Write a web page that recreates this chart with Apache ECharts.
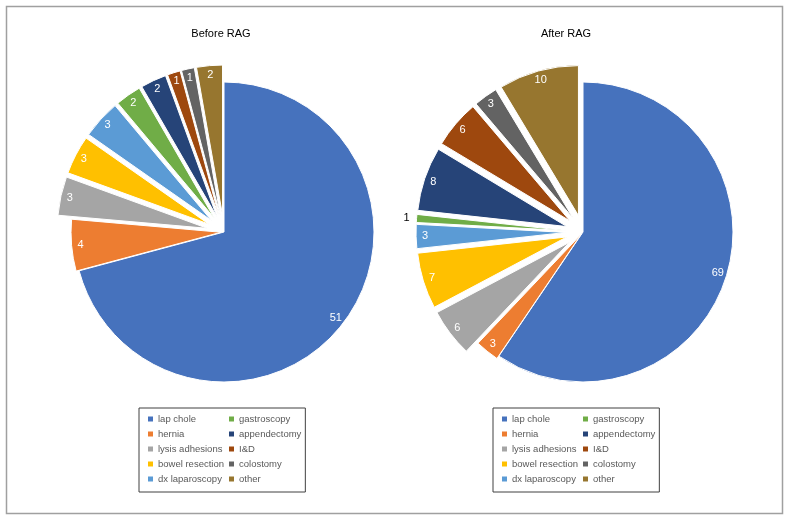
<!DOCTYPE html>
<html>
<head>
<meta charset="utf-8">
<script src="https://cdn.jsdelivr.net/npm/echarts@6/dist/echarts.min.js"></script>
<style>
  html, body { margin: 0; padding: 0; background: #fff; }
  #chart { width: 790px; height: 522px; }
</style>
</head>
<body>
<div id="chart"></div>
<script>
// ---- data ----
const categories = ['lap chole', 'hernia', 'lysis adhesions', 'bowel resection', 'dx laparoscopy',
                    'gastroscopy', 'appendectomy', 'I&D', 'colostomy', 'other'];
const beforeValues = [51, 4, 3, 3, 3, 2, 2, 1, 1, 2];
const afterValues  = [69, 3, 6, 7, 3, 1, 8, 6, 3, 10];
const titles = ['Before RAG', 'After RAG'];
const colors = ['#4672BD', '#ED7D31', '#A5A5A5', '#FFC000', '#5B9BD5',
                '#70AD47', '#264478', '#9E480E', '#636363', '#97762F'];
// labels drawn outside the slice (black), per chart
const outsideLabels = [[], ['gastroscopy']];

// ---- styling / layout ----
const FONT = 'Liberation Sans, Arial, Helvetica, sans-serif';
const R = 150;
const OFFSET = 17;       // explosion of the small slices
const HERNIA_OFFSET = 3; // hernia is only slightly exploded
const centers = [[224, 232], [583, 232]];
const titleX = [221, 566];
const legendX = [139, 493];
const CLEAR = 'rgba(0,0,0,0)';

function seriesFor(values, center, outside) {
  const isHernia = i => categories[i] === 'hernia';
  const isMain = i => i === 0;
  const base = {
    type: 'pie', center: center, startAngle: 90, clockwise: true,
    selectedMode: 'multiple', silent: true, animation: false,
    labelLine: { show: false }
  };
  const slices = Object.assign({}, base, {
    radius: [0, R], selectedOffset: OFFSET,
    label: { show: false },
    data: values.map((v, i) => ({
      name: categories[i], value: v, selected: !isMain(i) && !isHernia(i),
      itemStyle: isHernia(i) ? { color: CLEAR, borderWidth: 0 }
                             : { color: colors[i], borderColor: '#fff', borderWidth: 1 }
    }))
  });
  const hernia = Object.assign({}, base, {
    radius: [0, R], selectedOffset: HERNIA_OFFSET,
    label: { show: false },
    data: values.map((v, i) => ({
      name: categories[i], value: v, selected: isHernia(i),
      itemStyle: isHernia(i) ? { color: colors[i], borderColor: '#fff', borderWidth: 1 }
                             : { color: CLEAR, borderWidth: 0 }
    }))
  });
  const labelBase = {
    radius: [R - 24, R],
    itemStyle: { color: CLEAR, borderWidth: 0 },
    label: { show: true, position: 'inside', formatter: '{c}', color: '#fff',
             fontSize: 11, fontFamily: FONT }
  };
  const labels = Object.assign({}, base, labelBase, {
    selectedOffset: OFFSET,
    data: values.map((v, i) => {
      const item = { name: categories[i], value: v, selected: !isMain(i) && !isHernia(i) };
      if (isHernia(i)) item.label = { show: false };
      if (outside.indexOf(categories[i]) >= 0) {
        item.label = { show: true, position: 'outside', color: '#000' };
        item.labelLine = { show: false, length: 2, length2: 0 };
      }
      return item;
    })
  });
  const herniaLabels = Object.assign({}, base, labelBase, {
    selectedOffset: HERNIA_OFFSET,
    data: values.map((v, i) => ({
      name: categories[i], value: v, selected: isHernia(i),
      label: { show: isHernia(i) }
    }))
  });
  return [slices, hernia, labels, herniaLabels];
}

function legendFor(x) {
  return {
    orient: 'vertical', left: x, top: 408, height: 71,
    padding: [6, 4, 8, 9], itemGap: 5,
    itemWidth: 5, itemHeight: 5, icon: 'rect',
    borderColor: '#404040', borderWidth: 1, selectedMode: false,
    textStyle: { color: '#595959', fontSize: 9.5, fontFamily: FONT, padding: [0, 8, 0, 0] },
    data: categories.map((c, i) => ({ name: c, itemStyle: { color: colors[i], borderWidth: 0 } }))
  };
}

const chart = echarts.init(document.getElementById('chart'), null, { renderer: 'canvas' });
chart.setOption({
  animation: false,
  backgroundColor: '#fff',
  title: titles.map((t, k) => ({
    text: t, left: titleX[k], top: 28, padding: 0, textAlign: 'center',
    textStyle: { fontSize: 11, fontWeight: 'normal', color: '#000', fontFamily: FONT }
  })),
  legend: [legendFor(legendX[0]), legendFor(legendX[1])],
  graphic: [{
    type: 'rect', shape: { x: 6.5, y: 6.5, width: 776, height: 507 },
    style: { fill: 'none', stroke: '#a0a0a0', lineWidth: 1.5 }, silent: true
  }],
  series: [].concat(
    seriesFor(beforeValues, centers[0], outsideLabels[0]),
    seriesFor(afterValues, centers[1], outsideLabels[1])
  )
});
</script>
</body>
</html>
